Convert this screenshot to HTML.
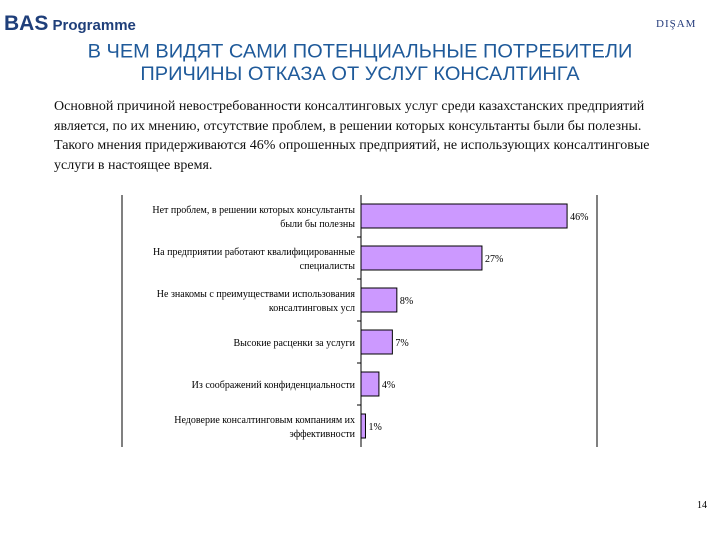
<!DOCTYPE html>
<html><head><meta charset="utf-8"><style>
body{margin:0;width:720px;height:540px;background:#fff;position:relative;overflow:hidden;font-family:"Liberation Serif",serif}
.t{position:absolute;white-space:nowrap}
</style></head><body>
<div class="t" style="left:4px;top:12px;font-family:'Liberation Sans',sans-serif;font-weight:bold;color:#1f3f7a"><span style="font-size:21px">BAS</span><span style="font-size:15px"> Programme</span></div>
<div class="t" style="left:656px;top:18px;font-size:11px;color:#233a7a;letter-spacing:1px">DIŞAM</div>
<div class="t" style="left:0;width:720px;top:39px;text-align:center;font-family:'Liberation Sans',sans-serif;font-size:20px;line-height:24px;color:#1f5a9a;transform:scaleY(0.95)">В ЧЕМ ВИДЯТ САМИ ПОТЕНЦИАЛЬНЫЕ ПОТРЕБИТЕЛИ<br>ПРИЧИНЫ ОТКАЗА ОТ УСЛУГ КОНСАЛТИНГА</div>
<div class="t" style="left:54px;top:97px;font-size:14px;line-height:19.5px;color:#111">Основной причиной невостребованности консалтинговых услуг среди казахстанских предприятий<br>является, по их мнению, отсутствие проблем, в решении которых консультанты были бы полезны.<br>Такого мнения придерживаются 46% опрошенных предприятий, не использующих консалтинговые<br>услуги в настоящее время.</div>
<svg id="chart" width="720" height="540" style="position:absolute;left:0;top:0"></svg>
<div class="t" style="left:697px;top:500px;font-size:10px">14</div>
<script>
const categories=[["Нет проблем, в решении которых консультанты","были бы полезны"],["На предприятии работают квалифицированные","специалисты"],["Не знакомы с преимуществами использования","консалтинговых усл"],["Высокие расценки за услуги"],["Из соображений конфиденциальности"],["Недоверие консалтинговым компаниям их","эффективности"]];
const values=[46,27,8,7,4,1];
const valueLabels=["46%","27%","8%","7%","4%","1%"];
const svg=document.getElementById('chart');const NS='http://www.w3.org/2000/svg';
const x0=361,pxPer=4.48,yTop=195,pitch=42,barH=24;
const xs=v=>x0+v*pxPer, yc=i=>yTop+21+i*pitch;
function mk(t,a){const e=document.createElementNS(NS,t);for(const k in a)e.setAttribute(k,a[k]);svg.appendChild(e);return e;}
let f=mk('line',{x1:122,y1:195,x2:122,y2:447,stroke:'#000','stroke-width':1});

f=mk('line',{x1:597,y1:195,x2:597,y2:447,stroke:'#000','stroke-width':1});

let ax=mk('line',{x1:x0,y1:yTop,x2:x0,y2:yTop+pitch*6,stroke:'#000','stroke-width':1});

values.forEach((v,i)=>{
 if(i>0){const tk=mk('line',{x1:x0-4,y1:yTop+i*pitch,x2:x0,y2:yTop+i*pitch,stroke:'#000'});
 }
 const r=mk('rect',{x:x0,y:yc(i)-barH/2,width:xs(v)-x0,height:barH,fill:'#cc99ff',stroke:'#000','stroke-width':1});
 
 const t=mk('text',{x:xs(v)+3,y:yc(i)+4,'font-size':10,'font-family':'Liberation Serif'});t.textContent=valueLabels[i];
 
 const lines=categories[i];
 lines.forEach((s,j)=>{const c=mk('text',{x:355,y:yc(i)+4+(j-(lines.length-1)/2)*14,'font-size':10,'text-anchor':'end','font-family':'Liberation Serif'});c.textContent=s;
 });
});
</script>
</body></html>
